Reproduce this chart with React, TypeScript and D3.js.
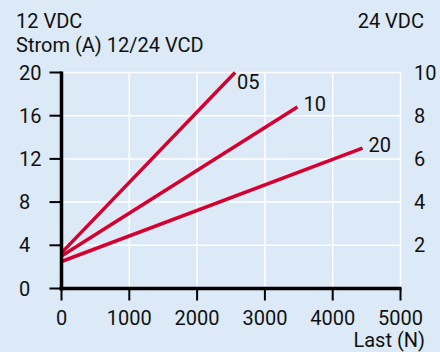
import React from "react";
import * as d3 from "d3";

const xTicks = [0, 1000, 2000, 3000, 4000, 5000];
const yLeftTicks = [0, 4, 8, 12, 16, 20];
const yRightTicks = [2, 4, 6, 8, 10];

const seriesNames = ["05", "10", "20"];
const seriesStart = [
  { x: 0, y: 3.3 },
  { x: 0, y: 3.0 },
  { x: 0, y: 2.5 },
];
const seriesEnd = [
  { x: 2560, y: 20 },
  { x: 3480, y: 16.8 },
  { x: 4440, y: 13 },
];
const labelOffsets = [
  { dx: 2, dy: 16 },
  { dx: 6, dy: 4 },
  { dx: 6, dy: 4 },
];

const W = 440;
const H = 352;
const FONT = "Roboto, 'DejaVu Sans', sans-serif";
const RED = "#d4002f";
const BG = "#dce9f6";

export default function App() {
  const x = d3.scaleLinear().domain([0, 5000]).range([61.5, 400.5]);
  const yL = d3.scaleLinear().domain([0, 20]).range([288.5, 72.5]);
  const yR = d3.scaleLinear().domain([0, 10]).range([288.5, 72.5]);
  const line = d3
    .line<{ x: number; y: number }>()
    .x((d) => x(d.x))
    .y((d) => yL(d.y));

  return (
    <svg
      width={W}
      height={H}
      style={{ position: "absolute", left: 0, top: 0, display: "block" }}
      fontFamily={FONT}
    >
      <rect x={0} y={0} width={W} height={H} fill={BG} />
      {/* grid */}
      {xTicks.filter((t) => t > 0).map((t) => (
        <line key={"gx" + t} x1={x(t)} x2={x(t)} y1={yL(20)} y2={yL(0)} stroke="#fff" strokeWidth={1.5} />
      ))}
      {yLeftTicks.filter((t) => t > 0).map((t) => (
        <line key={"gy" + t} x1={x(0)} x2={x(5000)} y1={yL(t)} y2={yL(t)} stroke="#fff" strokeWidth={1.5} />
      ))}
      {/* series */}
      {seriesNames.map((n, i) => (
        <g key={n}>
          <path d={line([seriesStart[i], seriesEnd[i]]) || ""} stroke={RED} strokeWidth={3.5} fill="none" />
          <text
            x={x(seriesEnd[i].x) + labelOffsets[i].dx}
            y={yL(seriesEnd[i].y) + labelOffsets[i].dy}
            fontSize={20}
            fill="#111"
          >
            {n}
          </text>
        </g>
      ))}
      {/* axes */}
      <line x1={x(0)} x2={x(0)} y1={yL(20) - 1} y2={yL(0) + 2} stroke="#000" strokeWidth={3.5} />
      <line x1={x(0) - 2} x2={x(5000) + 1} y1={yL(0)} y2={yL(0)} stroke="#000" strokeWidth={3.5} />
      {yLeftTicks.map((t) => (
        <g key={"yl" + t}>
          <line x1={x(0) - 12} x2={x(0)} y1={yL(t)} y2={yL(t)} stroke="#000" strokeWidth={2} />
          <text x={19} y={yL(t)} dy="0.35em" fontSize={20} fill="#111">
            {t}
          </text>
        </g>
      ))}
      {xTicks.map((t) => (
        <g key={"xt" + t}>
          <line x1={x(t)} x2={x(t)} y1={yL(0)} y2={yL(0) + 12} stroke="#000" strokeWidth={2} />
          <text x={x(t)} y={325} textAnchor="middle" fontSize={20} fill="#111">
            {t}
          </text>
        </g>
      ))}
      {yRightTicks.map((t) => (
        <text key={"yr" + t} x={414} y={yR(t)} dy="0.35em" fontSize={20} fill="#111">
          {t}
        </text>
      ))}
      <text x={16} y={28} fontSize={20} fill="#111">12 VDC</text>
      <text x={16} y={51.5} fontSize={20} fill="#111">Strom (A) 12/24 VCD</text>
      <text x={424} y={28} fontSize={20} textAnchor="end" fill="#111">24 VDC</text>
      <text x={425} y={347} fontSize={20} textAnchor="end" fill="#111">Last (N)</text>
    </svg>
  );
}
